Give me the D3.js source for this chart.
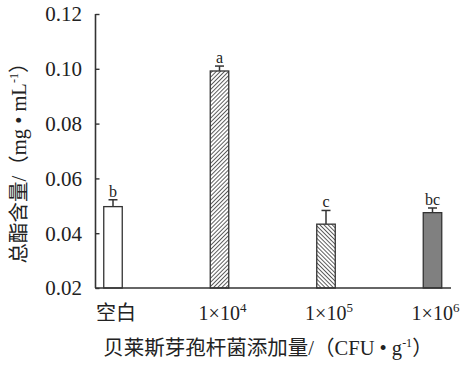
<!DOCTYPE html>
<html>
<head>
<meta charset="utf-8">
<script src="https://cdn.jsdelivr.net/npm/d3@7"></script>
<style>
  body { margin: 0; background: #fff; }
  svg text { font-family: "Liberation Serif", "Times New Roman", "Noto Sans CJK SC", serif; fill: #222; }
</style>
</head>
<body>
<svg id="chart" width="460" height="365"></svg>
<script>
// data
let categories = ['空白', '1×10^4', '1×10^5', '1×10^6']
let values = [0.0497, 0.0992, 0.0433, 0.0475]
let errors = [0.0025, 0.0018, 0.0050, 0.0017]
let letters = ['b', 'a', 'c', 'bc']
let yTicks = [0.02, 0.04, 0.06, 0.08, 0.10, 0.12]

let svg = d3.select('#chart')
let axisColor = '#333'

let x = d3.scalePoint()
    .domain(categories)
    .range([113, 432.5])

let y = d3.scaleLinear()
    .domain([0.02, 0.12])
    .range([288, 14])

let barW = 18.5

// hatch patterns
let defs = svg.append('defs')
function hatch(id, dir) {
    let p = defs.append('pattern')
        .attr('id', id)
        .attr('patternUnits', 'userSpaceOnUse')
        .attr('width', 2.9)
        .attr('height', 2.9)
        .attr('patternTransform', `rotate(${dir})`)
    p.append('rect').attr('width', 2.9).attr('height', 2.9).attr('fill', '#fff')
    p.append('line')
        .attr('x1', 0).attr('y1', 0).attr('x2', 0).attr('y2', 2.9)
        .attr('stroke', '#2a2a2a').attr('stroke-width', 1.5)
}
hatch('hatchA', 45)
hatch('hatchB', -45)
let fills = ['#fff', 'url(#hatchA)', 'url(#hatchB)', '#808080']

// y axis, ticks inward
let yAxisGen = d3.axisRight(y)
    .tickValues(yTicks)
    .tickSize(4)
    .tickFormat('')
let yAxis = svg.append('g')
    .attr('transform', 'translate(95.5,0)')
    .call(yAxisGen)
yAxis.select('.domain').attr('stroke', axisColor).attr('stroke-width', 1.6)
    .attr('d', `M0,${y(0.12)}V${y(0.02)}`)
yAxis.selectAll('.tick line').attr('stroke', axisColor).attr('stroke-width', 1.4)

svg.append('g').selectAll('text')
    .data(yTicks)
    .join('text')
    .attr('x', 82)
    .attr('y', d => y(d))
    .attr('dy', '0.35em')
    .attr('text-anchor', 'end')
    .style('font-size', '21px')
    .text(d => d.toFixed(2))

// bars
let bars = svg.append('g')
bars.selectAll('rect')
    .data(values)
    .join('rect')
    .attr('x', (d, i) => x(categories[i]) - barW / 2)
    .attr('y', d => y(d))
    .attr('width', barW)
    .attr('height', d => y(0.02) - y(d))
    .attr('fill', (d, i) => fills[i])
    .attr('stroke', '#333')
    .attr('stroke-width', 1.3)

// error bars
let err = svg.append('g').attr('stroke', '#333').attr('stroke-width', 1.5)
values.forEach((v, i) => {
    let cx = x(categories[i])
    err.append('line')
        .attr('x1', cx).attr('x2', cx)
        .attr('y1', y(v)).attr('y2', y(v + errors[i]))
    err.append('line')
        .attr('x1', cx - 4.5).attr('x2', cx + 4.5)
        .attr('y1', y(v + errors[i])).attr('y2', y(v + errors[i]))
})

// significance letters
svg.append('g').selectAll('text')
    .data(letters)
    .join('text')
    .attr('x', (d, i) => x(categories[i]))
    .attr('y', (d, i) => y(values[i] + errors[i]) - 3)
    .attr('text-anchor', 'middle')
    .style('font-size', '16px')
    .text(d => d)

// x axis line
let xAxisGen = d3.axisBottom(x).tickSize(0).tickFormat('')
let xAxis = svg.append('g')
    .attr('transform', `translate(0,${y(0.02)})`)
    .call(xAxisGen)
xAxis.select('.domain').attr('stroke', axisColor).attr('stroke-width', 1.6)
    .attr('d', 'M95,0H451')

// category labels
let labels = svg.append('g')
categories.forEach(c => {
    let t = labels.append('text')
        .attr('x', x(c) + 3)
        .attr('y', 320)
        .attr('text-anchor', 'middle')
        .style('font-size', '20px')
    if (c.includes('^')) {
        let parts = c.split('^')
        t.append('tspan').text(parts[0])
        t.append('tspan').attr('dy', -8).style('font-size', '13px').text(parts[1])
    } else {
        t.text(c)
    }
})

// axis titles
let xt = svg.append('text')
    .attr('x', 268)
    .attr('y', 355)
    .attr('text-anchor', 'middle')
    .style('font-size', '20.5px')
xt.append('tspan').text('贝莱斯芽孢杆菌添加量/（CFU • g')
xt.append('tspan').attr('dy', -8).style('font-size', '12px').text('-1')
xt.append('tspan').attr('dy', 8).text('）')

let yt = svg.append('text')
    .attr('transform', 'translate(19,158) rotate(-90)')
    .attr('text-anchor', 'middle')
    .attr('dy', '0.35em')
    .style('font-size', '20.5px')
yt.append('tspan').text('总酯含量/（mg • mL')
yt.append('tspan').attr('dy', -8).style('font-size', '12px').text('-1')
yt.append('tspan').attr('dy', 8).text('）')
</script>
</body>
</html>
